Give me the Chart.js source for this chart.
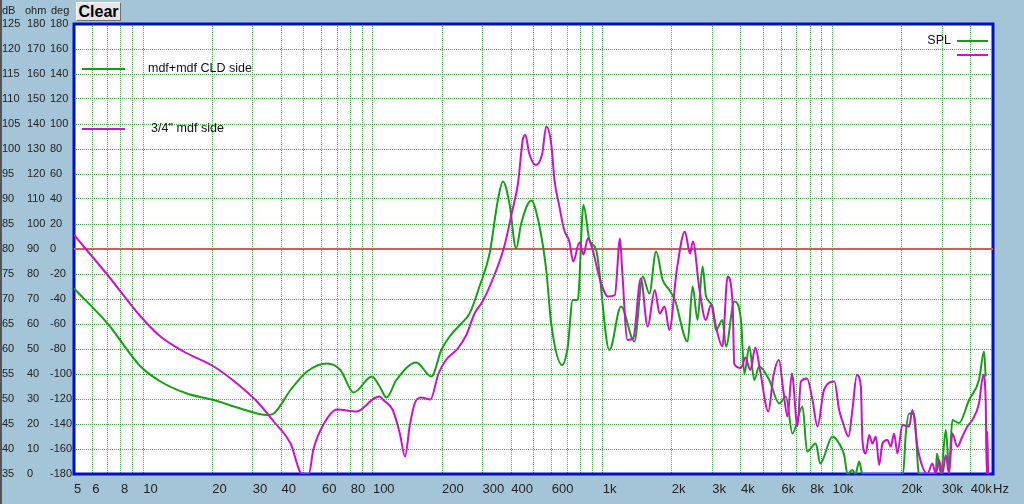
<!DOCTYPE html>
<html>
<head>
<meta charset="utf-8">
<script src="https://cdn.jsdelivr.net/npm/chart.js@4.4.0/dist/chart.umd.min.js"></script>
<style>
html,body{margin:0;padding:0;background:#a4c4d8;}
#wrap{position:relative;width:1024px;height:504px;overflow:hidden;background:#a4c4d8;}
#c{position:absolute;left:0;top:0;}
#clear{position:absolute;left:76px;top:2px;width:45px;height:19px;box-sizing:border-box;
  background:#e6e6e6;border-top:1px solid #ffffff;border-left:1px solid #ffffff;
  border-right:1px solid #707070;border-bottom:1px solid #707070;
  font:bold 16px "Liberation Sans",Arial,sans-serif;color:#000;line-height:18px;text-align:center;}
#edge{position:absolute;left:0;top:0;width:2px;height:504px;background:#555;}
</style>
</head>
<body>
<div id="wrap">
<canvas id="c" width="1024" height="504"></canvas>
<div id="clear">Clear</div>
<div id="edge"></div>
</div>
<script>
// ---- series names ----
const seriesNames = ['mdf+mdf CLD side', "3/4'' mdf side"];
const legendTitle = 'SPL';

// ---- series 1: mdf+mdf CLD side (green) ----
const cldFreq = [5, 7, 9.75, 11.9, 15.5, 20.3, 26.5, 34.6, 37, 43.8, 51.7, 63.1, 72.2, 82.4, 99, 107, 114.5, 126.5, 154.5, 179.6, 198.5, 215.7, 242.5, 263.5, 291, 322, 350, 368, 393, 420, 442, 489, 531, 568, 597, 666, 705, 741, 779, 825, 876, 937, 1070, 1202, 1374, 1494, 1597, 1708, 1825, 1951, 2063, 2344, 2464, 2588, 2722, 2817, 3010, 3111, 3323, 3442, 3740, 4000, 4136, 4347, 4570, 4800, 5310, 5870, 6275, 6700, 7410, 7760, 8470, 8850, 10000, 10700, 11250, 11630, 12220, 12600, 13080, 13500, 20300, 20870, 21570, 22700, 23820, 28180, 28500, 29700, 31140, 32190, 33270, 35560, 39330, 43450, 45700, 46450];
const cldDb = [72.1, 65.1, 56.5, 53.5, 51.1, 49.8, 48.1, 46.8, 47.1, 51.8, 55.5, 57.1, 55.8, 51.3, 54.5, 52.5, 50.3, 53.8, 57.3, 54.5, 59.8, 62.5, 65.1, 67.1, 72.5, 79.1, 89.8, 93.5, 89.1, 80.1, 85.1, 89.7, 84.5, 75.8, 65.1, 56.8, 60.5, 69.8, 69.8, 88.8, 81.8, 79.8, 59.8, 68.5, 61.5, 74.5, 71.1, 79.5, 73.8, 71.8, 69.8, 61.5, 72.5, 65.8, 76.5, 70.5, 68.5, 63.8, 65.8, 60.5, 69.5, 65.8, 55, 60.5, 53.8, 56.5, 53.8, 49.1, 50.5, 43.1, 48.5, 39.5, 41.1, 37.1, 42.5, 41.1, 38.8, 35, 35.8, 35, 37.5, 35, 35, 43.1, 47.1, 47, 35, 35, 39.1, 35, 43.8, 36.5, 45.8, 45.2, 49.8, 53.8, 59.5, 54.5];

// ---- series 2: 3/4'' mdf side (magenta) ----
const mdfFreq = [5, 7, 9.75, 11.9, 15, 20.3, 25.6, 31.3, 37, 43.8, 49.2, 52.6, 55, 61.3, 69.8, 85, 101, 107, 111, 122, 131, 138, 144.5, 152, 162, 178, 193, 208, 234, 255, 277, 300, 338, 373, 405, 428, 449, 461, 479, 512, 546, 568, 597, 617, 648, 680, 716, 745, 792, 825, 862, 905, 965, 1055, 1130, 1190, 1215, 1282, 1360, 1465, 1570, 1686, 1770, 1860, 1951, 2102, 2280, 2400, 2470, 2640, 2810, 2960, 3110, 3320, 3498, 3678, 3740, 4000, 4180, 4390, 4620, 4840, 5260, 5530, 5850, 6110, 6378, 6662, 7046, 7290, 7760, 8190, 8610, 9190, 10200, 10700, 11140, 11745, 12217, 12776, 13300, 13510, 13970, 14450, 14940, 15450, 15970, 16510, 17360, 17950, 18560, 19180, 20170, 21570, 22290, 23440, 24640, 25900, 27230, 28180, 29120, 30100, 31140, 32190, 33270, 34980, 36780, 38660, 40640, 43450, 45370, 46450, 46940, 47230, 47600];
const mdfDb = [82.8, 74.8, 66.5, 62.5, 59.5, 56.5, 53.1, 49.5, 45.5, 41.1, 35, 35, 39.8, 45.1, 47.9, 47.5, 50.1, 50.5, 49.8, 47.8, 43.1, 38.5, 44.5, 49.1, 50.3, 49.9, 55.1, 57.8, 60.1, 62.8, 67.1, 69.5, 74.8, 80.5, 87.8, 93.1, 101.8, 102.8, 99.1, 96.8, 99.1, 104.5, 101.1, 93.8, 88.5, 83.8, 81.5, 77.5, 81.3, 78.9, 82.1, 79.8, 74.5, 70.5, 70.8, 82.1, 76, 61.8, 62.2, 74.1, 64.5, 71.8, 67.1, 68.5, 63.8, 75.8, 83.5, 79.1, 81.5, 71.8, 65.8, 68.8, 64.5, 60.5, 74.5, 69.1, 57, 56.2, 58.3, 55.8, 60.3, 55.8, 47.5, 54.5, 57.8, 51.8, 46.5, 55.1, 44.5, 53.5, 54.1, 49.8, 44.5, 51.8, 53.5, 47.8, 45.1, 42.5, 47.8, 54.8, 52.5, 41.8, 39.1, 42.8, 41.1, 42.5, 36.8, 41.1, 41.8, 40.5, 43.1, 39.1, 44.8, 44.5, 47.8, 40.5, 36.5, 35, 37.1, 35, 37.8, 35, 38.8, 35, 43.1, 40.5, 42.5, 44.5, 45.8, 49.1, 54.8, 50, 35, 43.5, 35];

// ---- reference line (red, 80 dB) ----
const refFreq = [5, 50000];
const refDb = [80, 80];

// ---- x axis: grid frequencies and labelled ticks ----
const gridFreqs = [5, 6, 7, 8, 9, 10, 20, 30, 40, 50, 60, 70, 80, 90, 100, 200, 300, 400, 500, 600, 700, 800, 900, 1000, 2000, 3000, 4000, 5000, 6000, 7000, 8000, 9000, 10000, 20000, 30000, 40000, 50000];
const xLabelValues = [5, 6, 8, 10, 20, 30, 40, 60, 80, 100, 200, 300, 400, 600, 1000, 2000, 3000, 4000, 6000, 8000, 10000, 20000, 30000, 40000, 50000];
const xLabelTexts  = ['5', '6', '8', '10', '20', '30', '40', '60', '80', '100', '200', '300', '400', '600', '1k', '2k', '3k', '4k', '6k', '8k', '10k', '20k', '30k', '40k', 'Hz'];

// ---- y axes ranges / headers ----
const dbRange = [35, 125, 5];
const ohmRange = [0, 180, 10];
const degRange = [-180, 180, 20];
const yHeaders = ['dB', 'ohm', 'deg'];

const FONT = '"Liberation Sans", Arial, sans-serif';
const BG = '#a4c4d8';
const GREEN = '#14a014';
const MAGENTA = '#cc11cc';
const GRID = 'rgba(40,160,40,0.85)';

const toPts = (xs, ys) => xs.map((x, i) => ({x: x, y: ys[i]}));

const chrome = {
  id: 'chrome',
  beforeDraw(chart) {
    const {ctx, chartArea: a} = chart;
    ctx.save();
    ctx.fillStyle = BG;
    ctx.fillRect(0, 0, chart.width, chart.height);
    ctx.fillStyle = '#ffffff';
    ctx.fillRect(a.left, a.top, a.right - a.left, a.bottom - a.top);
    ctx.restore();
  },
  beforeDatasetsDraw(chart) {
    const {ctx, chartArea: a} = chart;
    ctx.save();
    ctx.strokeStyle = '#0010c8';
    ctx.lineWidth = 3;
    ctx.strokeRect(a.left, a.top, a.right - a.left, a.bottom - a.top);
    ctx.restore();
  },
  afterDraw(chart) {
    const {ctx, chartArea: a, scales} = chart;
    ctx.save();
    // axis headers
    ctx.fillStyle = '#222';
    ctx.font = '11px ' + FONT;
    ctx.textBaseline = 'middle';
    ctx.textAlign = 'left';
    ctx.fillText(yHeaders[0], scales.y.left, 11);
    ctx.fillText(yHeaders[1], scales.yOhm.left - 2, 11);
    ctx.fillText(yHeaders[2], scales.yDeg.left + 1, 11);
    // legends
    ctx.lineWidth = 2;
    ctx.font = '12.5px ' + FONT;
    ctx.fillStyle = '#111';
    const items = [[GREEN, seriesNames[0], a.top + 45, 74], [MAGENTA, seriesNames[1], a.top + 105, 77]];
    items.forEach(([col, name, y, tx]) => {
      ctx.strokeStyle = col;
      ctx.beginPath(); ctx.moveTo(a.left + 8, y); ctx.lineTo(a.left + 51, y); ctx.stroke();
      ctx.fillText(name, a.left + tx, y);
    });
    ctx.textAlign = 'right';
    ctx.fillText(legendTitle, a.right - 42, a.top + 17);
    ctx.strokeStyle = GREEN;
    ctx.beginPath(); ctx.moveTo(a.right - 36, a.top + 17); ctx.lineTo(a.right - 5, a.top + 17); ctx.stroke();
    ctx.strokeStyle = MAGENTA;
    ctx.beginPath(); ctx.moveTo(a.right - 36, a.top + 31); ctx.lineTo(a.right - 5, a.top + 31); ctx.stroke();
    ctx.restore();
  }
};

const yTickCommon = {
  crossAlign: 'far', padding: 0, color: '#222', autoSkip: false,
  font: {family: FONT, size: 11},
  callback: (v) => String(v)
};

new Chart(document.getElementById('c'), {
  type: 'line',
  data: {
    datasets: [
      {label: seriesNames[1], data: toPts(mdfFreq, mdfDb), borderColor: MAGENTA, borderWidth: 2, pointRadius: 0,
       cubicInterpolationMode: 'monotone', yAxisID: 'y', xAxisID: 'x', order: 1},
      {label: seriesNames[0], data: toPts(cldFreq, cldDb), borderColor: GREEN, borderWidth: 2, pointRadius: 0,
       cubicInterpolationMode: 'monotone', yAxisID: 'y', xAxisID: 'x', order: 2},
      {label: 'ref', data: toPts(refFreq, refDb), borderColor: '#d85a5a', borderWidth: 2, pointRadius: 0,
       yAxisID: 'y', xAxisID: 'x', order: 3}
    ]
  },
  options: {
    responsive: false,
    animation: false,
    devicePixelRatio: 1,
    parsing: false,
    layout: {padding: {left: 2, right: 31, top: 24, bottom: 0}},
    plugins: {legend: {display: false}, tooltip: {enabled: false}},
    scales: {
      x: {
        type: 'logarithmic', position: 'bottom', min: 5, max: 50000,
        afterBuildTicks: (s) => { s.ticks = gridFreqs.map(v => ({value: v})); },
        afterFit: (s) => { s.height = 30; },
        ticks: {
          autoSkip: false, maxRotation: 0, minRotation: 0, align: 'start', padding: 8,
          color: '#222', font: {family: FONT, size: 13},
          callback: (v) => { const i = xLabelValues.indexOf(v); return i >= 0 ? xLabelTexts[i] : ''; }
        },
        grid: {color: GRID, lineWidth: 1, drawTicks: false},
        border: {display: false, dash: [1, 1]}
      },
      y: {
        type: 'linear', position: 'left', weight: 3,
        min: dbRange[0], max: dbRange[1],
        ticks: Object.assign({stepSize: dbRange[2]}, yTickCommon),
        afterFit: (s) => { s.width = 25; },
        grid: {color: GRID, lineWidth: 1, drawTicks: false},
        border: {display: false, dash: [1, 1]}
      },
      yOhm: {
        type: 'linear', position: 'left', weight: 2,
        min: ohmRange[0], max: ohmRange[1],
        ticks: Object.assign({stepSize: ohmRange[2]}, yTickCommon),
        afterFit: (s) => { s.width = 23; },
        grid: {display: false, drawTicks: false},
        border: {display: false}
      },
      yDeg: {
        type: 'linear', position: 'left', weight: 1,
        min: degRange[0], max: degRange[1],
        ticks: Object.assign({stepSize: degRange[2]}, yTickCommon),
        afterFit: (s) => { s.width = 24; },
        grid: {display: false, drawTicks: false},
        border: {display: false}
      }
    }
  },
  plugins: [chrome]
});
</script>
</body>
</html>
